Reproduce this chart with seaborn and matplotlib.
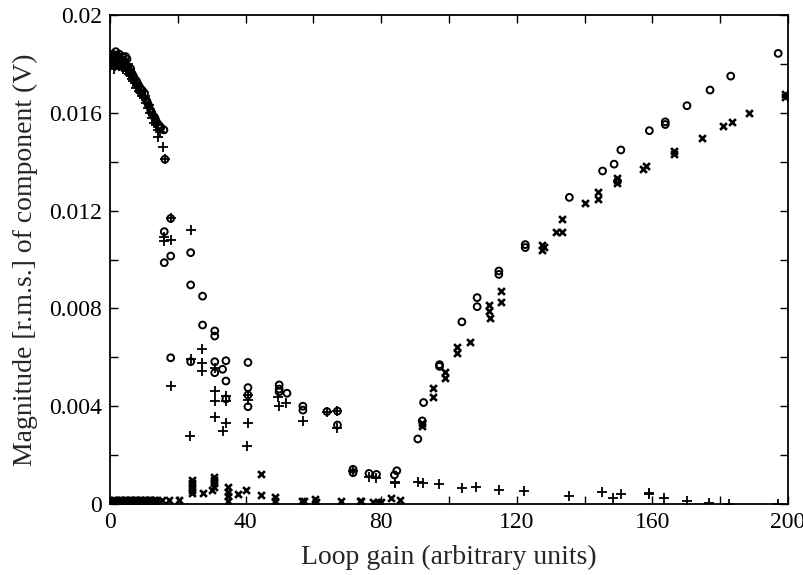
import matplotlib
matplotlib.use("Agg")
import matplotlib.pyplot as plt
import seaborn as sns
import numpy as np
import pandas as pd

# ---- data: circles ('o' series) ----
circ_x = [0.5, 0.8, 1.2, 1.7, 2.1, 2.5, 3.0, 3.5, 4.0, 4.6, 5.2, 5.8, 6.5, 7.2, 7.8, 8.5, 9.0,
          9.6, 10.2, 10.8, 11.4, 12.0, 12.6, 13.2, 13.8, 14.4, 15.0, 15.9, 16.2,
          0.3, 1.0, 1.5, 2.7, 3.2, 3.8, 4.4, 5.0, 6.1, 6.9, 8.1, 9.3, 11.1, 12.3, 13.5, 14.7,
          17.9, 16.0, 17.9, 16.0, 23.8, 23.8, 27.3, 27.3, 30.9, 30.9, 17.9, 23.8, 30.9, 30.9,
          33.2, 34.2, 34.2, 34.2, 40.7, 40.7, 40.7, 40.7, 49.9, 49.9, 49.9, 52.2, 56.9, 56.9,
          64.0, 67.1, 67.1, 71.7, 71.7, 76.4, 78.6, 84.6, 83.9,
          90.8, 92.1, 92.5, 97.2, 97.2, 103.8, 108.3, 108.3, 114.7, 114.7, 122.5, 122.5,
          135.5, 145.3, 148.7, 149.7, 150.7, 159.1, 163.8, 163.8, 170.2, 177.0, 183.1, 197.1]
circ_y = [0.0182, 0.0184, 0.0183, 0.0185, 0.0181, 0.0183, 0.0182, 0.0180, 0.0181, 0.0183,
          0.0179, 0.0177, 0.0176, 0.0174, 0.0173, 0.0171, 0.0170, 0.0169, 0.0168, 0.0165,
          0.0163, 0.0161, 0.0159, 0.0158, 0.0156, 0.0155, 0.0154, 0.0153, 0.0141,
          0.0180, 0.0181, 0.0183, 0.0184, 0.0179, 0.0183, 0.0180, 0.0182, 0.0178, 0.0175,
          0.0172, 0.0168, 0.0164, 0.0160, 0.0157, 0.0154,
          0.01168, 0.01114, 0.01014, 0.00987, 0.01028, 0.00896, 0.0085, 0.00732, 0.00708,
          0.00687, 0.00598, 0.00582, 0.00582, 0.00537, 0.00551, 0.00586, 0.00503, 0.0043,
          0.00579, 0.00476, 0.00446, 0.00398, 0.00487, 0.0047, 0.00459, 0.00453, 0.0040,
          0.00384, 0.00378, 0.0038, 0.00323, 0.00142, 0.00128, 0.00125, 0.00121, 0.00136,
          0.00119, 0.00266, 0.0034, 0.00415, 0.0057, 0.00563, 0.00745, 0.00844, 0.00807,
          0.00953, 0.00939, 0.01061, 0.01049, 0.01254, 0.01362, 0.0139, 0.0132, 0.01448,
          0.01527, 0.01563, 0.01552, 0.01629, 0.01693, 0.0175, 0.01843]

# ---- data: plus ('+' series) ----
plus_x = [0.4, 0.7, 1.0, 1.4, 1.9, 2.3, 2.8, 3.3, 3.8, 4.3, 4.9, 5.5, 6.1, 6.8, 7.4, 8.0, 8.7,
          9.3, 9.9, 10.5, 11.1, 11.7, 12.3, 12.9, 13.5, 14.1, 14.2, 14.7, 15.7, 16.2,
          0.6, 1.2, 1.7, 2.6, 3.5, 4.1, 4.6, 5.2, 5.8, 6.5, 7.7, 9.0, 10.2, 11.4, 12.6, 13.8,
          17.9, 15.9, 15.9, 17.9, 23.8, 27.2, 23.8, 27.2, 27.2, 30.9, 17.9, 30.9, 30.9, 34.2,
          34.2, 40.7, 40.7, 30.9, 34.2, 33.2, 40.7, 23.6, 40.4, 49.6, 49.9, 52.0, 56.9,
          64.0, 67.1, 67.1, 71.7, 76.4, 78.6, 84.2, 84.2, 90.8, 92.3, 97.0, 103.8, 108.0,
          114.7, 122.2, 135.3, 145.0, 148.5, 150.7, 159.1, 159.1, 163.3, 170.2, 176.7,
          182.6, 197.1]
plus_y = [0.0180, 0.0182, 0.0181, 0.0179, 0.0182, 0.0180, 0.0179, 0.0181, 0.0178, 0.0179,
          0.0177, 0.0176, 0.0175, 0.0173, 0.0172, 0.0171, 0.0169, 0.0167, 0.0166, 0.0164,
          0.0162, 0.0160, 0.0158, 0.0156, 0.0155, 0.0153, 0.0150, 0.0152, 0.0146, 0.0141,
          0.0183, 0.0178, 0.0180, 0.0182, 0.0179, 0.0181, 0.0177, 0.0180, 0.0178, 0.0174,
          0.0170, 0.0168, 0.0167, 0.0163, 0.0159, 0.0156,
          0.01168, 0.0109, 0.01076, 0.0108, 0.0112, 0.00633, 0.00592, 0.00575, 0.00544,
          0.00556, 0.00484, 0.00462, 0.00422, 0.0044, 0.0042, 0.00446, 0.00425, 0.00357,
          0.0033, 0.0030, 0.0033, 0.00278, 0.00238, 0.00436, 0.0040, 0.00412, 0.0034,
          0.00378, 0.0038, 0.0031, 0.00135, 0.0011, 0.00105, 0.00091, 0.00085, 0.00091,
          0.00085, 0.00081, 0.00064, 0.00068, 0.00057, 0.00053, 0.00034, 0.00048, 0.00023,
          0.00041, 0.00043, 0.00039, 0.00023, 0.00012, 0.00005, 0.00002, 0.0]

# ---- data: crosses ('x' series) ----
cross_x = [0.3, 0.8, 1.3, 1.8, 2.4, 2.9, 3.3, 3.9, 4.3, 4.8, 5.4, 5.8, 6.3, 6.9, 7.3, 7.8,
           8.4, 8.8, 9.3, 9.9, 10.3, 10.8, 11.4, 11.8, 12.3, 12.9, 13.3, 13.8,
           0.6, 1.1, 1.6, 2.1, 2.6, 3.1, 3.6, 4.1, 4.6, 5.1, 5.6, 6.1, 6.6, 7.1, 7.6, 8.1,
           8.6, 9.1, 9.6, 10.1, 10.6, 11.1, 11.6, 12.1, 12.6, 13.1, 13.6,
           15.2, 17.4,
           20.3, 24.2, 24.2, 24.2, 24.2, 24.2, 27.5, 30.0, 30.7, 30.6, 30.6, 30.6, 34.7,
           34.7, 34.7, 34.7, 37.8, 40.0, 44.4, 44.4, 48.6, 48.6, 56.5, 57.2, 60.4, 60.9,
           68.2, 73.6, 74.1, 77.6, 79.0, 80.0, 83.0, 85.4, 92.1, 92.1, 95.2, 95.2, 98.7,
           98.7, 102.3, 102.3, 106.2, 111.9, 111.9, 112.2, 115.2, 115.2, 127.5, 127.5,
           127.9, 131.6, 133.3, 133.3, 140.1, 144.1, 144.1, 149.7, 149.7, 157.1, 158.1,
           166.4, 166.4, 174.6, 180.9, 183.4, 188.5, 199.1, 199.1]
cross_y = [0.00014, 0.00013, 0.00015, 0.00014, 0.00013, 0.00015, 0.00014, 0.00013, 0.00015,
           0.00014, 0.00013, 0.00015, 0.00014, 0.00013, 0.00015, 0.00014, 0.00013, 0.00015,
           0.00014, 0.00013, 0.00015, 0.00014, 0.00013, 0.00015, 0.00014, 0.00013, 0.00015,
           0.00014,
           0.00011, 0.00017, 0.00012, 0.00016, 0.00011, 0.00017, 0.00012, 0.00016, 0.00011,
           0.00017, 0.00012, 0.00016, 0.00011, 0.00017, 0.00012, 0.00016, 0.00011, 0.00017,
           0.00012, 0.00016, 0.00011, 0.00017, 0.00012, 0.00016, 0.00011, 0.00017, 0.00012,
           0.00016, 0.00018, 0.00018, 0.00098, 0.00085, 0.00071, 0.00057, 0.00044,
           0.00046, 0.00057, 0.00071, 0.00112, 0.00098, 0.00087, 0.00068, 0.0005, 0.00033,
           0.00014, 0.00041, 0.00057, 0.00121, 0.00037, 0.00027, 0.00014, 0.00014, 0.00014,
           0.0002, 0.0001, 0.00014, 0.00014, 0.00014, 0.0001, 0.0001, 0.0001, 0.00023,
           0.00016, 0.0032, 0.0033, 0.00473, 0.00438, 0.00541, 0.00514, 0.00643, 0.00616,
           0.00664, 0.00814, 0.0079, 0.00762, 0.00872, 0.00827, 0.01059, 0.01039, 0.0105,
           0.01114, 0.01114, 0.01164, 0.0123, 0.01278, 0.01247, 0.01332, 0.01311, 0.01369,
           0.01382, 0.01442, 0.01431, 0.01498, 0.01546, 0.01564, 0.016, 0.01675, 0.01663]

x_ticks = [0, 20, 40, 60, 80, 100, 120, 140, 160, 180, 200]
y_ticks = [0, 0.002, 0.004, 0.006, 0.008, 0.010, 0.012, 0.014, 0.016, 0.018, 0.020]
y_ticklabels = ["0", "", "0.004", "", "0.008", "", "0.012", "", "0.016", "", "0.02"]
x_ticklabels = ["0", "", "40", "", "80", "", "120", "", "160", "", "200"]

sns.set_theme(style="ticks")
plt.rcParams["font.family"] = ["Liberation Serif", "DejaVu Serif"]

fig = plt.figure(figsize=(8.04, 5.75), dpi=100)
ax = fig.add_axes([110 / 804, 1 - 504 / 575, (788 - 110) / 804, (504 - 15) / 575])

df_o = pd.DataFrame({"gain": circ_x, "mag": circ_y})
df_p = pd.DataFrame({"gain": plus_x, "mag": plus_y})
df_x = pd.DataFrame({"gain": cross_x, "mag": cross_y})

sns.scatterplot(data=df_o, x="gain", y="mag", ax=ax, marker="o", s=24,
                facecolors="none", edgecolor="black", linewidth=1.4, legend=False)
sns.scatterplot(data=df_p, x="gain", y="mag", ax=ax, marker="+", s=48,
                color="black", linewidth=1.3, legend=False)
sns.scatterplot(data=df_x, x="gain", y="mag", ax=ax, marker="x", s=24,
                color="black", linewidth=1.9, legend=False)

ax.set_xlim(0, 200)
ax.set_ylim(0, 0.02)
ax.set_xticks(x_ticks)
ax.set_xticklabels(x_ticklabels)
ax.set_yticks(y_ticks)
ax.set_yticklabels(y_ticklabels)
ax.tick_params(direction="in", length=6, width=1, top=True, right=True,
               labelsize=17, colors="black", pad=6)
for sp in ax.spines.values():
    sp.set_visible(True)
    sp.set_linewidth(1.3)
    sp.set_color("black")

ax.set_xlabel("Loop gain (arbitrary units)", fontsize=20, labelpad=8)
ax.set_ylabel("Magnitude [r.m.s.] of component (V)", fontsize=20, labelpad=8)

fig.savefig("out.png", dpi=100, facecolor="white")
